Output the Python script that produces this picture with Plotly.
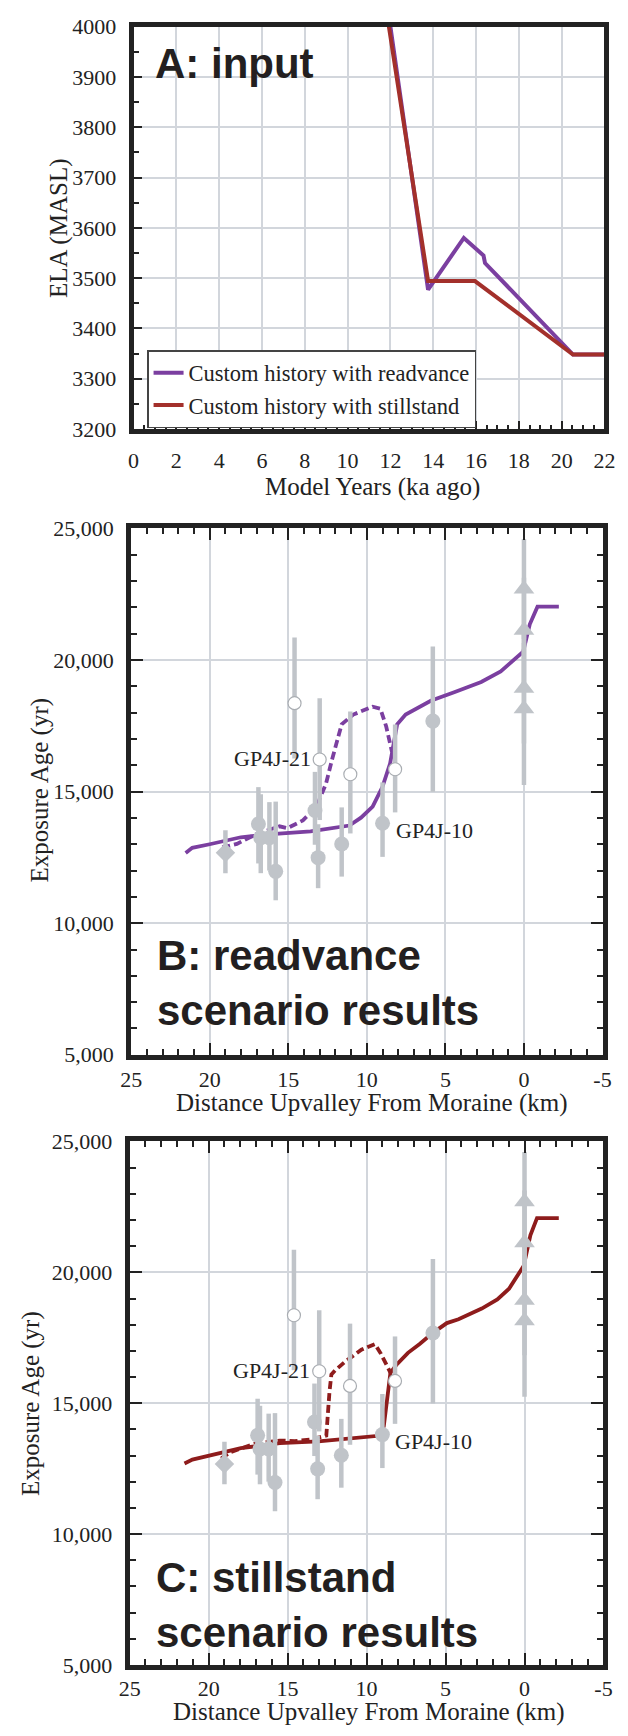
import plotly.graph_objects as go

W, H = 628, 1736

# ---------------- Panel A data: ELA histories ----------------
a_read_x = [12.0, 13.76, 15.43, 16.35, 16.42, 20.53, 22.0]
a_read_y = [4000, 3477, 3580, 3545, 3530, 3348, 3348]
a_still_x = [11.93, 13.76, 15.95, 20.53, 22.0]
a_still_y = [4000, 3494, 3494, 3348, 3348]
a_xticks = [0, 2, 4, 6, 8, 10, 12, 14, 16, 18, 20, 22]
a_yticks = [3200, 3300, 3400, 3500, 3600, 3700, 3800, 3900, 4000]

# ---------------- Panel B model curves (readvance) ----------------
b_solid_x = [21.53, 21.11, 20.0, 18.02, 16.05, 13.58, 11.11, 10.37, 9.63, 9.01, 8.52, 8.07, 7.53,
             5.93, 4.44, 2.72, 1.48, 0.49, 0.05, -0.37, -0.86, -2.22]
b_solid_y = [12669, 12863, 13000, 13265, 13384, 13489, 13712, 14010, 14427, 15172, 16066, 17556, 17929,
             18450, 18778, 19166, 19568, 20089, 20313, 21356, 22026, 22026]
b_dash_x = [19.2, 18.27, 17.04, 15.56, 15.06, 14.07, 13.22, 12.6, 12.2, 11.6, 10.86, 9.63, 9.14, 8.77, 8.4]
b_dash_y = [12880, 13012, 13384, 13682, 13608, 13906, 14409, 15300, 16250, 17556, 17929, 18227, 18152, 17482, 16513]

# ---------------- Panel C model curves (stillstand) ----------------
c_solid_x = [21.53, 21.03, 17.96, 15.5, 13.04, 10.58, 9.1, 8.91, 8.66, 8.49, 8.12, 7.38, 6.64, 5.78,
             4.92, 4.18, 2.71, 1.72, 0.98, 0.37, 0.05, -0.37, -0.79, -2.17]
c_solid_y = [12697, 12843, 13280, 13470, 13542, 13659, 13761, 14125, 15437, 16166, 16458, 16924, 17260,
             17697, 18061, 18207, 18615, 18965, 19373, 19956, 20248, 21414, 22070, 22070]
c_dash_x = [19.2, 18.7, 17.82, 16.97, 15.5, 14.55, 13.53, 12.55, 12.35, 12.23, 12.0, 11.32, 10.33, 9.47,
            9.1, 8.62, 8.45]
c_dash_y = [12880, 13105, 13299, 13469, 13571, 13551, 13615, 13761, 15437, 16093, 16250, 16604, 17041, 17260,
            16895, 16313, 16120]

# ---------------- Exposure ages (samples) ----------------
fill_x = [16.9, 16.75, 16.2, 15.8, 13.3, 13.1, 11.6, 9.0, 5.8]
fill_y = [13770, 13250, 13250, 11970, 14280, 12490, 13010, 13800, 17680]
fill_ep = [1400, 1650, 1350, 2650, 1470, 1270, 1390, 1550, 2830]
fill_em = [1500, 1350, 1250, 1100, 1300, 1160, 1240, 1280, 2690]

open_x = [14.6, 13.0, 11.05, 8.2]
open_y = [18360, 16220, 15660, 15850]
open_ep = [2500, 2330, 2380, 1700]
open_em = [2100, 2300, 2250, 1640]

dia_x = [19.0]
dia_y = [12680]
dia_ep = [850]
dia_em = [780]

tri_x = [0, 0, 0, 0]
tri_y = [22700, 21130, 18930, 18150]
tri_ep = [1900, 2000, 2100, 2500]
tri_em = [1900, 2000, 2100, 2900]

bc_xticks = [25, 20, 15, 10, 5, 0, -5]
bc_xtext = ["25", "20", "15", "10", "5", "0", "-5"]
bc_yticks = [5000, 10000, 15000, 20000, 25000]
bc_ytext = ["5,000", "10,000", "15,000", "20,000", "25,000"]

PURPLE = "#7b3fa0"
RED_A = "#a3302b"
RED_C = "#8e1c1c"
GRAY = "#c0c4c9"
OPEN_GRAY = "#a9adb2"
INK = "#222222"
GRID = "#d2d6dc"
SERIF = "Liberation Serif"
SANS = "Liberation Sans"

fig = go.Figure()

# Panel A
fig.add_trace(go.Scatter(x=a_read_x, y=a_read_y, mode="lines", name="Custom history with readvance",
                         line=dict(color=PURPLE, width=4), xaxis="x", yaxis="y"))
fig.add_trace(go.Scatter(x=a_still_x, y=a_still_y, mode="lines", name="Custom history with stillstand",
                         line=dict(color=RED_A, width=4), xaxis="x", yaxis="y"))


def add_points(xa, ya):
    fig.add_trace(go.Scatter(x=dia_x, y=dia_y, mode="markers", showlegend=False, xaxis=xa, yaxis=ya,
                             marker=dict(symbol="diamond", size=15, color=GRAY),
                             error_y=dict(type="data", symmetric=False, array=dia_ep, arrayminus=dia_em,
                                          color=GRAY, thickness=4.5, width=0)))
    fig.add_trace(go.Scatter(x=tri_x, y=tri_y, mode="markers", showlegend=False, xaxis=xa, yaxis=ya,
                             marker=dict(symbol="triangle-up", size=18, color=GRAY),
                             error_y=dict(type="data", symmetric=False, array=tri_ep, arrayminus=tri_em,
                                          color=GRAY, thickness=4.5, width=0)))
    fig.add_trace(go.Scatter(x=fill_x, y=fill_y, mode="markers", showlegend=False, xaxis=xa, yaxis=ya,
                             marker=dict(symbol="circle", size=15, color=GRAY),
                             error_y=dict(type="data", symmetric=False, array=fill_ep, arrayminus=fill_em,
                                          color=GRAY, thickness=4.5, width=0)))
    fig.add_trace(go.Scatter(x=open_x, y=open_y, mode="markers", showlegend=False, xaxis=xa, yaxis=ya,
                             marker=dict(symbol="circle", size=13, color="white",
                                         line=dict(color=OPEN_GRAY, width=1.2)),
                             error_y=dict(type="data", symmetric=False, array=open_ep, arrayminus=open_em,
                                          color=GRAY, thickness=4.5, width=0)))


# Panel B
fig.add_trace(go.Scatter(x=b_solid_x, y=b_solid_y, mode="lines", showlegend=False, xaxis="x2", yaxis="y2",
                         line=dict(color=PURPLE, width=3.8)))
fig.add_trace(go.Scatter(x=b_dash_x, y=b_dash_y, mode="lines", showlegend=False, xaxis="x2", yaxis="y2",
                         line=dict(color=PURPLE, width=3.8, dash="8px,4px")))
add_points("x2", "y2")

# Panel C
fig.add_trace(go.Scatter(x=c_solid_x, y=c_solid_y, mode="lines", showlegend=False, xaxis="x3", yaxis="y3",
                         line=dict(color=RED_C, width=3.8)))
fig.add_trace(go.Scatter(x=c_dash_x, y=c_dash_y, mode="lines", showlegend=False, xaxis="x3", yaxis="y3",
                         line=dict(color=RED_C, width=3.8, dash="8px,4px")))
add_points("x3", "y3")


def px_x(p):
    return p / W


def px_y(p):
    return 1 - p / H


tickfont = dict(family=SERIF, size=22, color=INK)
frame = dict(showline=True, linecolor=INK, linewidth=5, zeroline=False, gridcolor=GRID, gridwidth=1.5,
             tickcolor=INK, tickwidth=2, tickfont=tickfont)

layout = dict(
    width=W, height=H, margin=dict(l=0, r=0, t=0, b=0),
    paper_bgcolor="white", plot_bgcolor="white",
    showlegend=True,
    legend=dict(x=px_x(141), y=px_y(343), xanchor="left", yanchor="top",
                font=dict(family=SERIF, size=22.5, color=INK), bgcolor="white",
                bordercolor="#444444", borderwidth=1.5, tracegroupgap=0, itemwidth=30),
)

# Panel A axes
layout["xaxis"] = dict(frame, domain=[px_x(127), px_x(615)], anchor="y", range=[0, 22],
                       tickmode="array", tickvals=a_xticks, ticktext=[str(v) for v in a_xticks],
                       mirror=True, ticks="inside", ticklen=8, ticklabelstandoff=8,
                       minor=dict(dtick=0.5, tick0=0, ticks="inside", ticklen=4, tickwidth=2,
                                  tickcolor=INK, showgrid=False))
layout["yaxis"] = dict(frame, domain=[px_y(423), px_y(15)], anchor="x", range=[3200, 4000],
                       tickmode="array", tickvals=a_yticks, ticktext=[str(v) for v in a_yticks],
                       mirror=True, ticks="inside", ticklen=8, ticklabelstandoff=8,
                       minor=dict(dtick=50, tick0=3200, ticks="inside", ticklen=5, tickwidth=2,
                                  tickcolor=INK, showgrid=False))

panels = {2: (524, 1058, 124.5, 613, 1), 3: (1146, 1677, 123, 614, 0)}
for idx, (top, bot, left, right, xstand) in panels.items():
    layout[f"xaxis{idx}"] = dict(frame, domain=[px_x(left), px_x(right)], anchor=f"y{idx}", range=[25, -5],
                                 tickmode="array", tickvals=bc_xticks, ticktext=bc_xtext,
                                 mirror="allticks", ticks="inside", ticklen=12, ticklabelstandoff=xstand,
                                 minor=dict(dtick=1, tick0=0, ticks="inside", ticklen=6, tickwidth=2,
                                            tickcolor=INK, showgrid=False))
    layout[f"yaxis{idx}"] = dict(frame, domain=[px_y(bot), px_y(top)], anchor=f"x{idx}", range=[5000, 25000],
                                 tickmode="array", tickvals=bc_yticks, ticktext=bc_ytext,
                                 mirror="allticks", ticks="inside", ticklen=12, ticklabelstandoff=8,
                                 minor=dict(dtick=1000, tick0=0, ticks="inside", ticklen=6, tickwidth=2,
                                            tickcolor=INK, showgrid=False))

fig.update_layout(**layout)

titlefont = dict(family=SERIF, size=25, color=INK)
bigfont = dict(family=SANS, size=42, color="#231f20", weight="bold")

annots = [
    # axis titles
    dict(text="ELA (MASL)", x=px_x(50), y=px_y(219), textangle=-90, font=titlefont),
    dict(text="Model Years (ka ago)", x=px_x(375), y=px_y(482), font=titlefont),
    dict(text="Exposure Age (yr)", x=px_x(30), y=px_y(789), textangle=-90, font=titlefont),
    dict(text="Distance Upvalley From Moraine (km)", x=px_x(374), y=px_y(1107), font=titlefont),
    dict(text="Exposure Age (yr)", x=px_x(20), y=px_y(1412), textangle=-90, font=titlefont),
    dict(text="Distance Upvalley From Moraine (km)", x=px_x(371), y=px_y(1725), font=titlefont),
    # panel labels
    dict(text="A: input", x=px_x(147), y=px_y(52), xanchor="left", font=bigfont),
    dict(text="B: readvance<br>scenario results", x=px_x(149), y=px_y(985), xanchor="left",
         align="left", font=bigfont),
    dict(text="C: stillstand<br>scenario results", x=px_x(148), y=px_y(1616), xanchor="left",
         align="left", font=bigfont),
]
for a in annots:
    a.setdefault("xanchor", "center")
    fig.add_annotation(xref="paper", yref="paper", yanchor="middle", showarrow=False, **a)

# sample labels
labfont = dict(family=SERIF, size=22, color=INK)
for xa, ya in (("x2", "y2"), ("x3", "y3")):
    fig.add_annotation(text="GP4J-21", x=13.45, y=16250, xref=xa, yref=ya, xanchor="right",
                       yanchor="middle", showarrow=False, font=labfont)
    fig.add_annotation(text="GP4J-10", x=8.3, y=13520, xref=xa, yref=ya, xanchor="left",
                       yanchor="middle", showarrow=False, font=labfont)

fig.write_html("out.html")
